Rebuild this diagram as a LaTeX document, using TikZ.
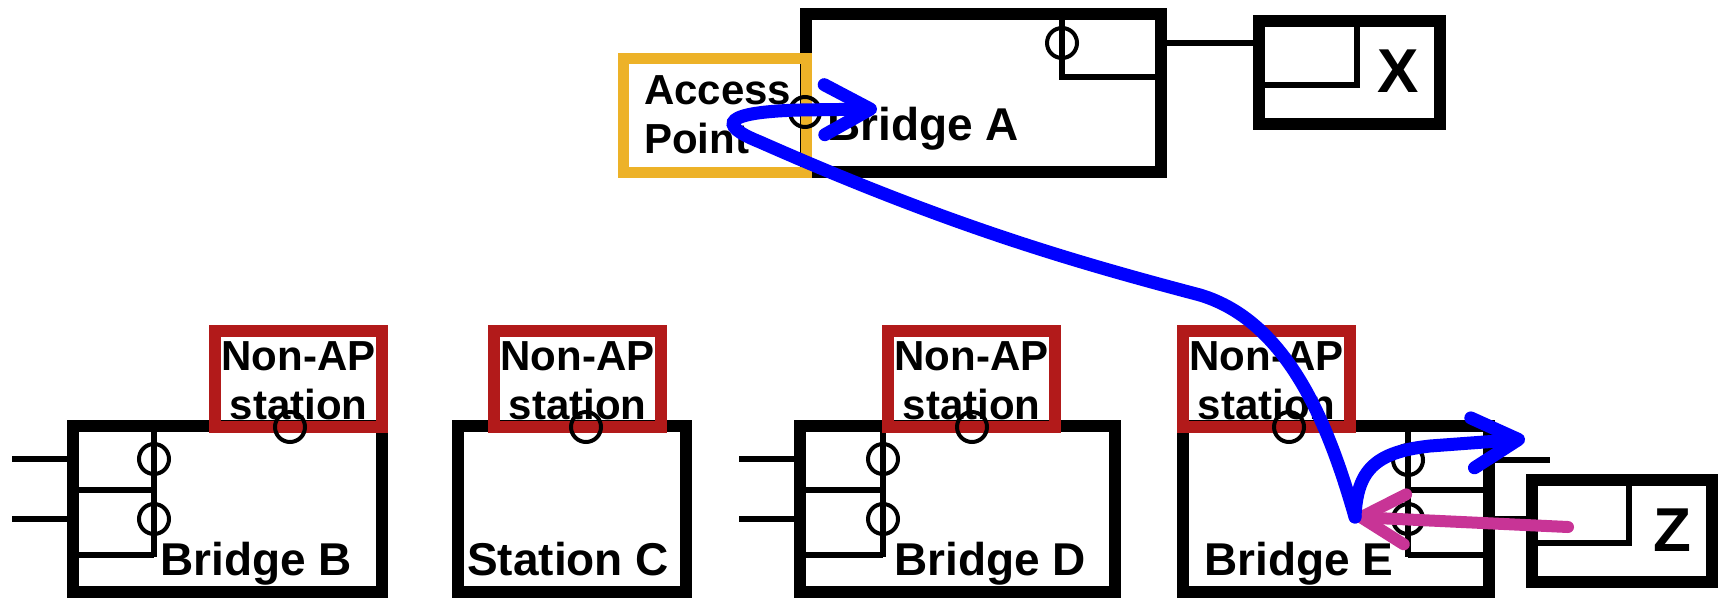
\documentclass[tikz,border=0pt]{standalone}
\usepackage{fontspec}
\setmainfont{Liberation Sans}
\usepackage{xcolor}
\usetikzlibrary{arrows.meta, calc}

\definecolor{apgold}{RGB}{237,178,40}
\definecolor{stared}{RGB}{178,26,26}
\definecolor{flowmag}{RGB}{200,52,150}

\begin{document}
\begin{tikzpicture}[x=1pt, y=-1pt,
    box/.style n args={2}{draw, line width=12pt, inner sep=0pt, minimum width=#1, minimum height=#2},
    stabox/.style={draw=stared, line width=12pt, inner sep=0pt, minimum width=167pt, minimum height=96pt},
    apbox/.style={draw=apgold, line width=11pt, inner sep=0pt, minimum width=183pt, minimum height=114pt},
    port/.style={circle, draw, line width=4pt, minimum size=30pt, inner sep=0pt},
    wire/.style={line width=5.5pt},
    lbl/.style={font=\fontsize{46pt}{52pt}\selectfont\bfseries, inner sep=0pt},
    statxt/.style={font=\fontsize{42pt}{49pt}\selectfont\bfseries, inner sep=0pt, align=center},
    letter/.style={font=\fontsize{62pt}{70pt}\selectfont\bfseries, inner sep=0pt},
    blueflow/.style={draw=blue, line width=13pt, line cap=round,
        -{Straight Barb[length=46pt, width=50pt, round]}},
    magflow/.style={draw=flowmag, line width=12pt, line cap=round,
        -{Straight Barb[length=44pt, width=50pt, round]}}
]
    \useasboundingbox (0,0) rectangle (1723,598);

    % 1. 网桥与终端外框
    \node[box={355pt}{158pt}] (bra) at (983.5,93) {};
    \node[box={181pt}{103pt}] (hx) at (1349.5,72.5) {};
    \node[box={309pt}{166pt}] (brb) at (227.5,509) {};
    \node[box={228pt}{166pt}] (stc) at (572,509) {};
    \node[box={315pt}{166pt}] (brd) at (957.5,509) {};
    \node[box={306pt}{166pt}] (bre) at (1336,509) {};
    \node[box={180pt}{102pt}] (hz) at (1622,531) {};

    % 2. 端口圆圈
    \foreach \n/\x/\y in {aport/1062/43, pb1/154/459, pb2/154/519, pd1/883/459, pd2/883/519,
                          pe1/1408/460, pe2/1408/519}
        \node[port] (\n) at (\x,\y) {};

    % 3. 端口内部连线
    \draw[wire] (1062,20) -- (1062,77) -- (1155,77);
    \foreach \px/\lx in {154/79, 883/806} {
        \draw[wire] (\px,432) -- (\px,557);
        \draw[wire] (\lx,490) -- (\px,490);
        \draw[wire] (\lx,555) -- (\px,555);
    }
    \draw[wire] (1408,432) -- (1408,557);
    \draw[wire] (1408,490) -- (1483,490);
    \draw[wire] (1408,555) -- (1483,555);
    \draw[wire] (1265,85) -- (1357,85) -- (1357,27);
    \draw[wire] (1538,543) -- (1629,543) -- (1629,486);

    % 4. 外部链路与悬空端口
    \coordinate (endB) at (12,0);
    \coordinate (endD) at (739,0);
    \coordinate (endE) at (1550,0);
    \draw[wire] (bra.east |- aport) -- (hx.west |- aport);
    \draw[wire] (brb.west |- pb1) -- (endB |- pb1);
    \draw[wire] (brb.west |- pb2) -- (endB |- pb2);
    \draw[wire] (brd.west |- pd1) -- (endD |- pd1);
    \draw[wire] (brd.west |- pd2) -- (endD |- pd2);
    \draw[wire] (bre.east |- pe1) -- (endE |- pe1);
    \draw[wire] (bre.east |- pe2) -- (hz.west |- pe2);

    % 5. 非AP站点与接入点
    \foreach \n/\x/\cx in {b/298.5/290, c/577.5/586, d/971.5/972, e/1266.5/1289} {
        \node[stabox] (sta\n) at (\x,379) {};
        \node[port] (ps\n) at (\cx,427) {};
        \node[statxt, anchor=north] (txt\n) at (\x,341) {Non-AP\\station};
    }
    \node[apbox] (ap) at (715,115.5) {};
    \node[port] (apport) at (805,112) {};
    \node[statxt, align=left, anchor=north west] (aptxt) at (644,75) {Access\\Point};

    % 6. 名称
    \node[lbl, anchor=base west] (tbra) at (827,140) {Bridge A};
    \node[lbl, anchor=base west] (tbrb) at (160,575) {Bridge B};
    \node[lbl, anchor=base west] (tstc) at (467,575) {Station C};
    \node[lbl, anchor=base west] (tbrd) at (894,575) {Bridge D};
    \node[lbl, anchor=base west] (tbre) at (1204,575) {Bridge E};
    \node[letter] (tx) at (1398,71) {X};
    \node[letter] (tz) at (1672,530) {Z};

    % 7. 帧的转发路径
    \coordinate (fwd) at (1355,517);
    \coordinate (intoA) at (877,109);
    \coordinate (outE) at (1525,439);
    \coordinate (fromZ) at (1568,527);
    \draw[magflow] (fromZ) -- (fwd);
    \draw[blueflow] (fwd) .. controls (1330,430) and (1290,322) .. (1200,295)
        .. controls (1075,262) and (950,226) .. (760,142)
        .. controls (715,124) and (725,112) .. (800,110) -- (intoA);
    \draw[blueflow] (fwd) .. controls (1357,470) and (1375,452) .. (1430,446) -- (outE);
\end{tikzpicture}
\end{document}
